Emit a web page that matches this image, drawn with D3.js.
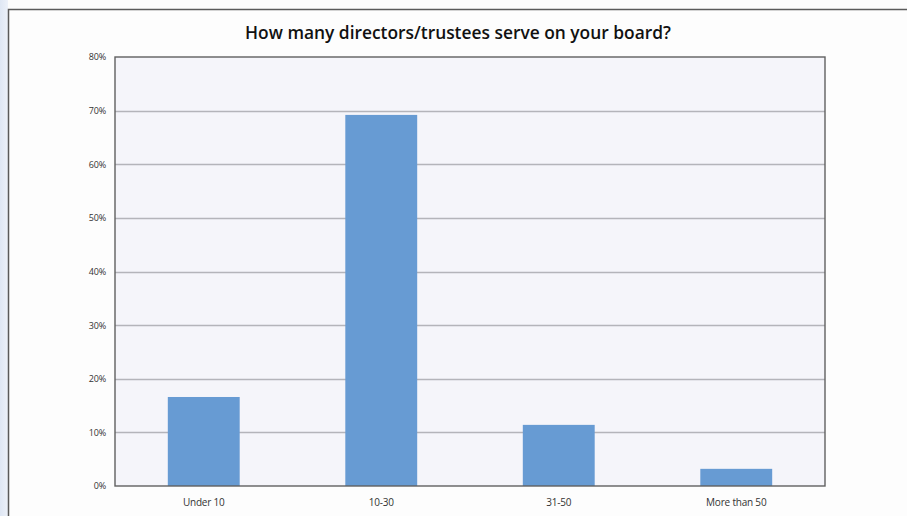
<!DOCTYPE html>
<html>
<head>
<meta charset="utf-8">
<script src="https://cdn.jsdelivr.net/npm/d3@7"></script>
<style>
  html, body { margin: 0; padding: 0; background: #fcfcfc; }
  svg { display: block; }
</style>
</head>
<body>
<svg id="chart" width="907" height="516"></svg>
<script>
// Board size survey responses (share of respondents)
const categories = ["Under 10", "10-30", "31-50", "More than 50"];
const shares = [16.6, 69.2, 11.4, 3.2];
const yTicks = [0, 10, 20, 30, 40, 50, 60, 70, 80];
const title = "How many directors/trustees serve on your board?";

const svg = d3.select("#chart");
const W = 907, H = 516;
const plot = { left: 115, top: 57, right: 825, bottom: 486 };

// Soft blue strip at the far left edge
const grad = svg.append("defs").append("linearGradient")
  .attr("id", "edge").attr("x1", 0).attr("x2", 1);
grad.append("stop").attr("offset", 0).attr("stop-color", "#dfe7f4");
grad.append("stop").attr("offset", 1).attr("stop-color", "#edf1f9");
svg.append("rect").attr("x", 0).attr("y", 0).attr("width", 8).attr("height", H)
  .attr("fill", "url(#edge)");

// Page area
svg.append("rect").attr("x", 8).attr("y", 9).attr("width", W - 8).attr("height", H - 9)
  .attr("fill", "#fdfdfd");
svg.append("path").attr("d", `M8.5,${H} V9.5 H${W}`)
  .attr("fill", "none").attr("stroke", "#5a5a5a").attr("stroke-width", 1.5);

// Title
const t = svg.append("text")
  .attr("x", 458).attr("y", 39)
  .attr("text-anchor", "middle")
  .attr("font-family", "'Open Sans', sans-serif")
  .attr("font-weight", 600)
  .attr("font-size", 18)
  .attr("fill", "#111")
  .text(title);
const tw = t.node().getComputedTextLength();
t.attr("font-size", 18 * 426 / tw);

const x = d3.scaleBand().domain(categories)
  .range([plot.left, plot.right]).paddingInner(0.595).paddingOuter(0.2975);
const y = d3.scaleLinear().domain([0, 80]).range([plot.bottom, plot.top]);

// Plot background
svg.append("rect")
  .attr("x", plot.left).attr("y", plot.top)
  .attr("width", plot.right - plot.left).attr("height", plot.bottom - plot.top)
  .attr("fill", "#f5f5fa");

// Gridlines
svg.append("g").selectAll("line").data(yTicks.filter(d => d > 0 && d < 80)).join("line")
  .attr("x1", plot.left).attr("x2", plot.right)
  .attr("y1", d => Math.round(y(d)) + 0.5).attr("y2", d => Math.round(y(d)) + 0.5)
  .attr("stroke", "#b4b4ba").attr("stroke-width", 1.3);

// Bars
svg.append("g").selectAll("rect").data(categories).join("rect")
  .attr("x", d => x(d))
  .attr("width", x.bandwidth())
  .attr("y", (d, i) => y(shares[i]))
  .attr("height", (d, i) => y(0) - y(shares[i]))
  .attr("fill", "#679bd3");

// Plot frame
svg.append("rect")
  .attr("x", plot.left).attr("y", plot.top)
  .attr("width", plot.right - plot.left).attr("height", plot.bottom - plot.top)
  .attr("fill", "none").attr("stroke", "#606060").attr("stroke-width", 1.4);

// Y axis labels
const yAxis = d3.axisLeft(y).tickValues(yTicks).tickFormat(d => d + "%").tickSize(0).tickPadding(9);
const ya = svg.append("g").attr("transform", `translate(${plot.left},0)`).call(yAxis);
ya.select(".domain").remove();
ya.selectAll("text")
  .attr("font-family", "'Open Sans', sans-serif")
  .attr("font-size", 9).attr("letter-spacing", -0.2).attr("fill", "#333");

// X axis labels
const xAxis = d3.axisBottom(x).tickSize(0).tickPadding(13);
const xa = svg.append("g").attr("transform", `translate(0,${plot.bottom})`).call(xAxis);
xa.select(".domain").remove();
xa.selectAll("text")
  .attr("font-family", "'Open Sans', sans-serif")
  .attr("font-size", 10).attr("letter-spacing", -0.2).attr("fill", "#333");
</script>
</body>
</html>
